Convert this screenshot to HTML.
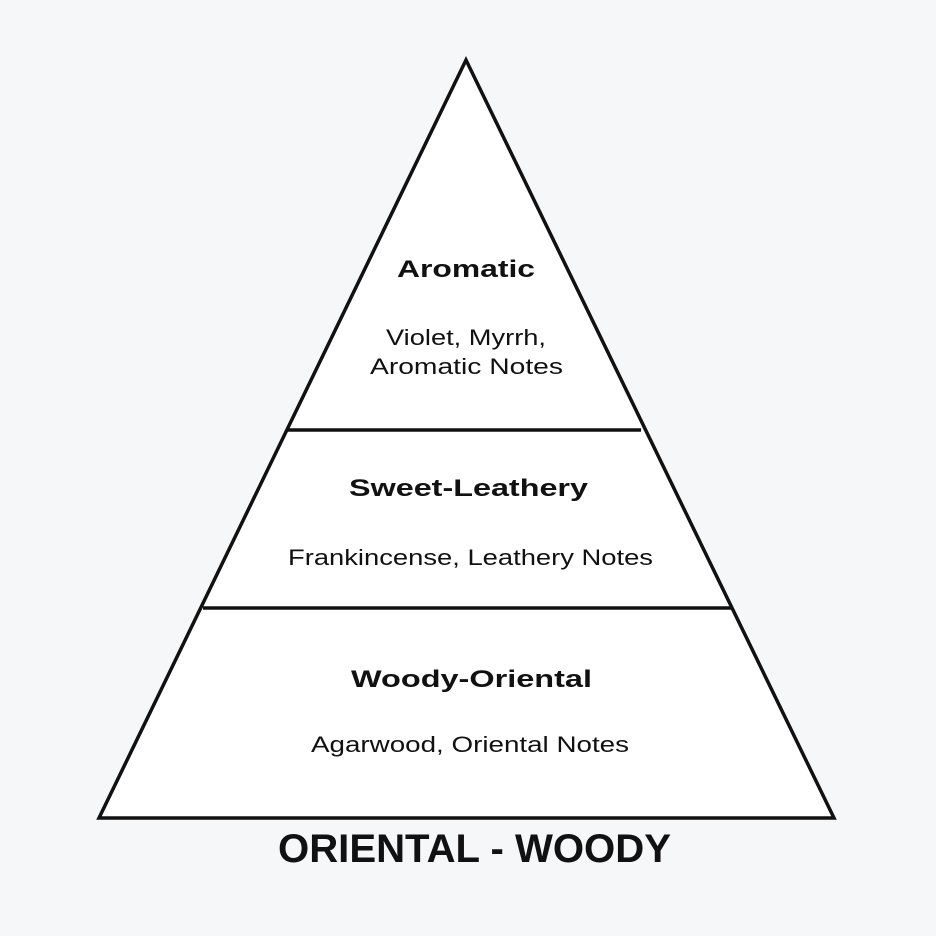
<!DOCTYPE html>
<html><head><meta charset="utf-8"><style>
html,body{margin:0;padding:0;background:#f6f7f9;}
svg{display:block;}
text{font-family:"Liberation Sans",sans-serif;fill:#111;}
.b{font-weight:bold;font-size:24px;}
.r{font-size:22px;}
</style></head><body>
<svg width="936" height="936" viewBox="0 0 936 936">
<rect width="936" height="936" fill="#f6f7f9"/>
<polygon points="466,60 99,818 834,818" fill="#fff" stroke="#111" stroke-width="3.5" stroke-linejoin="miter"/>
<line x1="288" y1="430" x2="641" y2="430" stroke="#111" stroke-width="3.5"/>
<line x1="203" y1="608" x2="731" y2="608" stroke="#111" stroke-width="3.5"/>
<text class="b" x="397" y="277" textLength="138" lengthAdjust="spacingAndGlyphs">Aromatic</text>
<text class="r" x="386" y="345" textLength="160" lengthAdjust="spacingAndGlyphs">Violet, Myrrh,</text>
<text class="r" x="370" y="374" textLength="193" lengthAdjust="spacingAndGlyphs">Aromatic Notes</text>
<text class="b" x="349" y="496" textLength="239" lengthAdjust="spacingAndGlyphs">Sweet-Leathery</text>
<text class="r" x="288" y="565" textLength="365" lengthAdjust="spacingAndGlyphs">Frankincense, Leathery Notes</text>
<text class="b" x="351" y="687" textLength="241" lengthAdjust="spacingAndGlyphs">Woody-Oriental</text>
<text class="r" x="311" y="752" textLength="318" lengthAdjust="spacingAndGlyphs">Agarwood, Oriental Notes</text>
<text x="278" y="862" style="font-weight:bold;font-size:40px" textLength="393" lengthAdjust="spacingAndGlyphs">ORIENTAL - WOODY</text>
</svg>
</body></html>
